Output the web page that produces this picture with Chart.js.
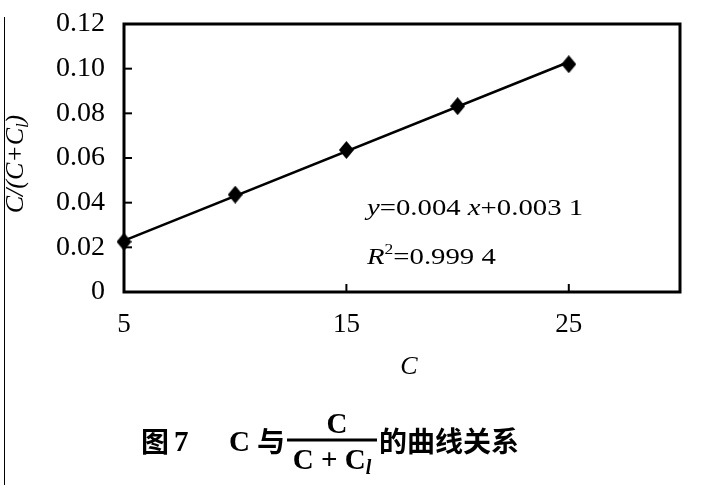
<!DOCTYPE html>
<html>
<head>
<meta charset="utf-8">
<script src="https://cdn.jsdelivr.net/npm/chart.js@4/dist/chart.umd.min.js"></script>
<style>
  html, body { margin: 0; padding: 0; background: #fff; }
  #wrap { position: relative; width: 721px; height: 485px; }
</style>
</head>
<body>
<div id="wrap"><canvas id="chart" width="721" height="485"></canvas></div>
<script>
// measured points
const concentration = [5, 10, 15, 20, 25];
const ratio = [0.0225, 0.0436, 0.0636, 0.0832, 0.1020];
// fitted line ends
const fitX = [5, 25];
const fitY = [0.023, 0.103];
const xTicks = [5, 15, 25];
const yTicks = [0, 0.02, 0.04, 0.06, 0.08, 0.10, 0.12];

const serif = '"Liberation Serif", "DejaVu Serif", serif';
const cjk = '"Noto Sans CJK SC", sans-serif';

// taller-than-wide diamond marker
function makeDiamond(w, h) {
  const cv = document.createElement('canvas');
  cv.width = w; cv.height = h;
  const c = cv.getContext('2d');
  c.fillStyle = '#000';
  c.beginPath();
  c.moveTo(w / 2, 0);
  c.lineTo(w, h / 2);
  c.lineTo(w / 2, h);
  c.lineTo(0, h / 2);
  c.closePath();
  c.fill();
  return cv;
}
const diamond = makeDiamond(15, 18);

// draw a run of [text, font, dy] pieces starting at x, stretched by sx
function drawRun(ctx, pieces, x, y, sx) {
  sx = sx || 1;
  ctx.save();
  ctx.translate(x, y);
  ctx.scale(sx, 1);
  let cx = 0;
  pieces.forEach(p => {
    ctx.font = p[1];
    ctx.fillText(p[0], cx, p[2] || 0);
    cx += ctx.measureText(p[0]).width;
  });
  ctx.restore();
}
function runWidth(ctx, pieces) {
  let w = 0;
  pieces.forEach(p => { ctx.font = p[1]; w += ctx.measureText(p[0]).width; });
  return w;
}

const decor = {
  id: 'decor',
  beforeDatasetsDraw(chart) {
    const ctx = chart.ctx;
    const a = chart.chartArea;
    const xs = chart.scales.x, ys = chart.scales.y;
    ctx.save();
    ctx.strokeStyle = '#000';
    // inward ticks
    ctx.lineWidth = 2;
    yTicks.forEach(v => {
      const py = ys.getPixelForValue(v);
      ctx.beginPath(); ctx.moveTo(a.left, py); ctx.lineTo(a.left + 8, py); ctx.stroke();
    });
    xTicks.forEach(v => {
      const px = xs.getPixelForValue(v);
      ctx.beginPath(); ctx.moveTo(px, a.bottom); ctx.lineTo(px, a.bottom - 8); ctx.stroke();
    });
    // frame
    ctx.lineWidth = 3;
    ctx.strokeRect(a.left, a.top, a.right - a.left, a.bottom - a.top);
    ctx.restore();
  },
  afterDraw(chart) {
    const ctx = chart.ctx;
    ctx.save();
    ctx.fillStyle = '#000';
    ctx.strokeStyle = '#000';
    ctx.textAlign = 'left';
    ctx.textBaseline = 'alphabetic';

    // page rule on the left
    ctx.lineWidth = 1;
    ctx.beginPath(); ctx.moveTo(4.5, 17); ctx.lineTo(4.5, 485); ctx.stroke();

    // y-axis title, rotated
    const it = 'italic 26px ' + serif;
    const itSmall = 'italic 16px ' + serif;
    const yTitle = [['C/(C+C', it], ['l', itSmall, 5], [')', it]];
    ctx.save();
    ctx.translate(23, 164);
    ctx.rotate(-Math.PI / 2);
    drawRun(ctx, yTitle, -runWidth(ctx, yTitle) / 2, 0);
    ctx.restore();

    // x-axis title
    ctx.font = 'italic 26px ' + serif;
    ctx.textAlign = 'center';
    ctx.fillText('C', 409, 374);
    ctx.textAlign = 'left';

    // regression text (source type is wide)
    const rm = '23px ' + serif, ri = 'italic 23px ' + serif;
    drawRun(ctx, [['y', ri], ['=0.004 ', rm], ['x', ri], ['+0.003 1', rm]], 367, 215, 1.25);
    drawRun(ctx, [['R', ri], ['2', '14px ' + serif, -10], ['=0.999 4', rm]], 367, 264, 1.25);

    // caption
    const cb = 'bold 28px ' + cjk;
    const sb = 'bold 29px ' + serif;
    ctx.font = cb; ctx.fillText('图', 141, 452);
    ctx.font = sb; ctx.fillText('7', 174, 451);
    ctx.font = sb; ctx.fillText('C', 229, 451);
    ctx.font = cb; ctx.fillText('与', 257, 452);
    // fraction
    ctx.lineWidth = 3;
    ctx.beginPath(); ctx.moveTo(287, 440); ctx.lineTo(377, 440); ctx.stroke();
    ctx.font = sb; ctx.textAlign = 'center';
    ctx.fillText('C', 337, 433);
    ctx.textAlign = 'left';
    const den = [['C + C', sb], ['l', 'bold italic 20px ' + serif, 5]];
    drawRun(ctx, den, 332 - runWidth(ctx, den) / 2, 469);
    ctx.font = cb; ctx.fillText('的曲线关系', 379, 452);
    ctx.restore();
  }
};

new Chart(document.getElementById('chart'), {
  type: 'scatter',
  data: {
    datasets: [
      {
        label: 'fit',
        type: 'line',
        data: fitX.map((x, i) => ({ x: x, y: fitY[i] })),
        borderColor: '#000',
        borderWidth: 2.5,
        pointRadius: 0,
        fill: false,
        clip: false
      },
      {
        label: 'C/(C+Cl)',
        data: concentration.map((x, i) => ({ x: x, y: ratio[i] })),
        pointStyle: diamond,
        pointRadius: 9,
        backgroundColor: '#000',
        borderColor: '#000',
        clip: false
      }
    ]
  },
  plugins: [decor],
  options: {
    responsive: false,
    animation: false,
    events: [],
    layout: { padding: { top: 24, right: 41, bottom: 133, left: 0 } },
    plugins: { legend: { display: false }, tooltip: { enabled: false } },
    scales: {
      x: {
        type: 'linear',
        min: 5,
        max: 30,
        afterBuildTicks: s => { s.ticks = xTicks.map(v => ({ value: v })); },
        afterFit: s => { s.height = 60; s.paddingLeft = 0; s.paddingRight = 0; },
        grid: { display: false },
        border: { display: false },
        ticks: {
          color: '#000',
          padding: 9,
          maxRotation: 0,
          font: { family: serif, size: 27 },
          callback: v => String(v)
        }
      },
      y: {
        type: 'linear',
        min: 0,
        max: 0.12,
        afterBuildTicks: s => { s.ticks = yTicks.map(v => ({ value: v })); },
        afterFit: s => { s.width = 124; s.paddingTop = 0; s.paddingBottom = 0; },
        grid: { display: false },
        border: { display: false },
        ticks: {
          color: '#000',
          padding: 11,
          font: { family: serif, size: 28 },
          callback: v => v === 0 ? '0' : v.toFixed(2)
        }
      }
    }
  }
});
</script>
</body>
</html>
